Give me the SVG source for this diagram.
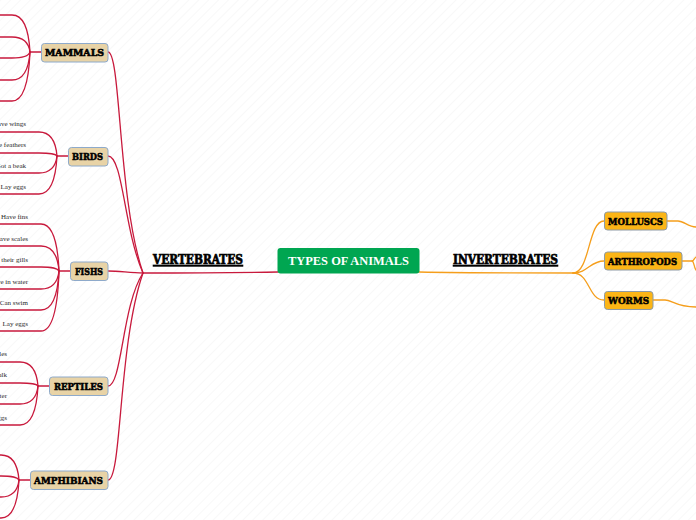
<svg xmlns="http://www.w3.org/2000/svg" width="696" height="520" viewBox="0 0 696 520">
<defs>
<pattern id="bg" width="7" height="7" patternUnits="userSpaceOnUse" patternTransform="rotate(45)">
<line x1="0" y1="0" x2="0" y2="7" stroke="#f1f1f1" stroke-width="1"/>
</pattern>
<style>
.r{fill:none;stroke:#c8193c;stroke-width:1.3;stroke-linecap:round}
.o{fill:none;stroke:#f59e1b;stroke-width:1.3;stroke-linecap:round}
.tan{fill:#e8d3a6;stroke:#8eaacb;stroke-width:1}
.org{fill:#fbb516;stroke:#8d9aa6;stroke-width:1}
.lbl{font-family:"DejaVu Serif",serif;font-weight:900;font-size:9.5px;fill:#000;stroke:#000;stroke-width:0.55px}
.big{font-family:"DejaVu Serif",serif;font-weight:900;font-size:12.5px;fill:#000;stroke:#000;stroke-width:0.7px;text-decoration:underline}
.leaf{font-family:"Liberation Serif","Times New Roman",serif;font-size:7px;fill:#2a2a2a;text-anchor:end}
</style>
</defs>
<rect width="696" height="520" fill="#ffffff"/>
<rect width="696" height="520" fill="url(#bg)"/>

<g id="connectors">
<path class="r" d="M278,272 C220,273 180,273 143,273"/>
<path class="o" d="M419,272 C470,273 520,273 573,273"/>
<path class="r" d="M108,52 C121,52 118,200 143,273"/>
<path class="r" d="M108,156 C123,156 124,230 143,273"/>
<path class="r" d="M108,271 C120,271 130,273 143,273"/>
<path class="r" d="M108,386 C122,386 122,305 143,273"/>
<path class="r" d="M108,480 C122,480 118,345 143,273"/>
<path class="o" d="M573,273 C590,273 588,221 604,221"/>
<path class="o" d="M573,273 C588,273 590,261 604,261"/>
<path class="o" d="M573,273 C590,273 588,300 604,300"/>
<path class="o" d="M667,221 H678 C684,221 688,227 696,227"/>
<path class="o" d="M682,261 H692 C694,261 694,258 696,257"/>
<path class="o" d="M692,261 C694,261 694,268 696,270"/>
<path class="o" d="M653,300 H665 C672,300 676,307 696,307"/>
<path class="r" d="M30,52 H41"/>
<path class="r" d="M0,15 H12 Q28,15 30,52"/>
<path class="r" d="M0,37 H12 Q28,37 30,52"/>
<path class="r" d="M0,58 H12 Q28,58 30,52"/>
<path class="r" d="M0,80 H12 Q28,80 30,52"/>
<path class="r" d="M0,101 H12 Q28,101 30,52"/>
<path class="r" d="M57,156 H68"/>
<path class="r" d="M0,132 H39 Q55,132 57,156"/>
<path class="r" d="M0,153 H39 Q55,153 57,156"/>
<path class="r" d="M0,173 H39 Q55,173 57,156"/>
<path class="r" d="M0,194 H39 Q55,194 57,156"/>
<path class="r" d="M59,271 H70"/>
<path class="r" d="M0,224 H41 Q57,224 59,271"/>
<path class="r" d="M0,246 H41 Q57,246 59,271"/>
<path class="r" d="M0,267 H41 Q57,267 59,271"/>
<path class="r" d="M0,289 H41 Q57,289 59,271"/>
<path class="r" d="M0,310 H41 Q57,310 59,271"/>
<path class="r" d="M0,331 H41 Q57,331 59,271"/>
<path class="r" d="M38,386 H49"/>
<path class="r" d="M0,362 H20 Q36,362 38,386"/>
<path class="r" d="M0,383 H20 Q36,383 38,386"/>
<path class="r" d="M0,404 H20 Q36,404 38,386"/>
<path class="r" d="M0,425 H20 Q36,425 38,386"/>
<path class="r" d="M19,480 H30"/>
<path class="r" d="M-20,455 H1 Q17,455 19,480"/>
<path class="r" d="M-20,476 H1 Q17,476 19,480"/>
<path class="r" d="M-20,497 H1 Q17,497 19,480"/>
<path class="r" d="M-20,518 H1 Q17,518 19,480"/>
</g>

<g id="center">
<rect x="277.5" y="248" width="142" height="25.5" rx="3" fill="#00a651"/>
<text x="348.5" y="264.5" text-anchor="middle" font-family="'Liberation Serif','Times New Roman',serif" font-weight="bold" font-size="11.5" fill="#ffffff" textLength="121" lengthAdjust="spacingAndGlyphs">TYPES OF ANIMALS</text>
</g>

<g id="vertebrates">
<text class="big" x="153" y="264" textLength="90" lengthAdjust="spacingAndGlyphs">VERTEBRATES</text>
</g>
<g id="invertebrates">
<text class="big" x="453" y="264" textLength="105" lengthAdjust="spacingAndGlyphs">INVERTEBRATES</text>
</g>

<g id="mammals">
<rect class="tan" x="41.5" y="43.5" width="66.5" height="18.5" rx="3"/>
<text class="lbl" x="45" y="56" textLength="59" lengthAdjust="spacingAndGlyphs">MAMMALS</text>
</g>
<g id="birds">
<rect class="tan" x="68.5" y="147.5" width="39.5" height="18.5" rx="3"/>
<text class="lbl" x="72" y="160" textLength="31" lengthAdjust="spacingAndGlyphs">BIRDS</text>
</g>
<g id="fishs">
<rect class="tan" x="70.5" y="262" width="37.5" height="18.5" rx="3"/>
<text class="lbl" x="75" y="274.5" textLength="28" lengthAdjust="spacingAndGlyphs">FISHS</text>
</g>
<g id="reptiles">
<rect class="tan" x="49.5" y="377" width="58.5" height="18.5" rx="3"/>
<text class="lbl" x="54" y="389.5" textLength="49" lengthAdjust="spacingAndGlyphs">REPTILES</text>
</g>
<g id="amphibians">
<rect class="tan" x="30.5" y="471" width="77.5" height="18.5" rx="3"/>
<text class="lbl" x="34" y="483.5" textLength="69" lengthAdjust="spacingAndGlyphs">AMPHIBIANS</text>
</g>

<g id="molluscs">
<rect class="org" x="604.5" y="212" width="62.5" height="18" rx="3"/>
<text class="lbl" x="608" y="224.5" textLength="55" lengthAdjust="spacingAndGlyphs">MOLLUSCS</text>
</g>
<g id="arthropods">
<rect class="org" x="604.5" y="252" width="77.5" height="18" rx="3"/>
<text class="lbl" x="608" y="264.5" textLength="69" lengthAdjust="spacingAndGlyphs">ARTHROPODS</text>
</g>
<g id="worms">
<rect class="org" x="604.5" y="291.5" width="48.5" height="18" rx="3"/>
<text class="lbl" x="608" y="304" textLength="41" lengthAdjust="spacingAndGlyphs">WORMS</text>
</g>

<g id="birds-leaves">
<text class="leaf" x="26" y="126">Have wings</text>
<text class="leaf" x="26" y="147">Have feathers</text>
<text class="leaf" x="26" y="168">Got a beak</text>
<text class="leaf" x="26" y="189">Lay eggs</text>
</g>
<g id="fishs-leaves">
<text class="leaf" x="28" y="219">Have fins</text>
<text class="leaf" x="28" y="241">Have scales</text>
<text class="leaf" x="28" y="262">Breathe through their gills</text>
<text class="leaf" x="28" y="284">Live in water</text>
<text class="leaf" x="28" y="305">Can swim</text>
<text class="leaf" x="28" y="326">Lay eggs</text>
</g>
<g id="reptiles-leaves">
<text class="leaf" x="7" y="356">Have scales</text>
<text class="leaf" x="7" y="377">Walk</text>
<text class="leaf" x="7" y="398">Live in water</text>
<text class="leaf" x="7" y="420">Lay eggs</text>
</g>
</svg>
